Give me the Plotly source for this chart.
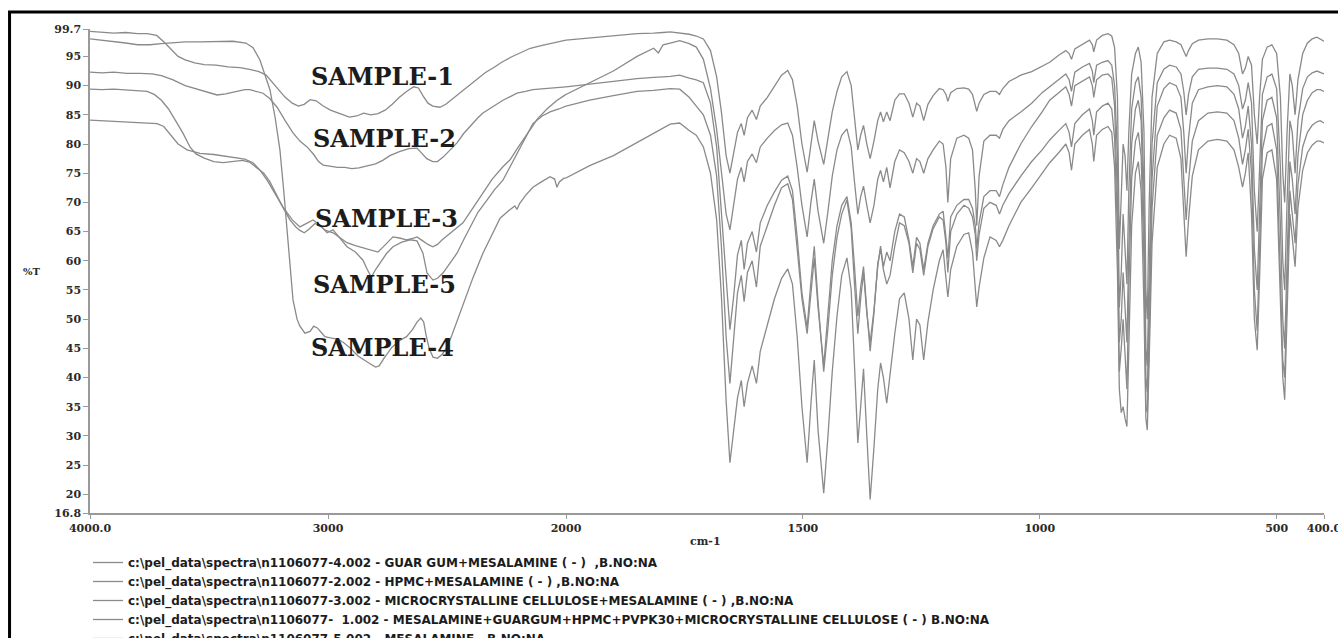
import plotly.graph_objects as go

# ---------------- data ----------------
# High-wavenumber part (4000 -> 2000 cm-1), one list per sample
WN_S1_HI = [4000, 3950, 3900, 3850, 3800, 3760, 3720, 3690, 3660, 3630, 3600, 3560, 3520, 3470, 3420,
            3370, 3330, 3290, 3260, 3235, 3210, 3180, 3150, 3125, 3100, 3075, 3050, 3020, 2990, 2950,
            2910, 2880, 2850, 2820, 2790, 2760, 2730, 2700, 2670, 2640, 2620, 2600, 2580, 2560, 2530,
            2505, 2480, 2458, 2430, 2400, 2374, 2340, 2300, 2270, 2230, 2190, 2150, 2100, 2050, 2000]
T_S1_HI = [99.3, 99.2, 99.0, 99.1, 98.9, 98.9, 98.6, 97.5, 96.3, 95.0, 94.4, 93.9, 93.6, 93.5, 93.2,
           93.1, 92.8, 92.4, 91.8, 90.6, 89.3, 88.0, 87.0, 86.5, 86.8, 87.6, 87.4, 86.5, 85.8, 85.2,
           84.6, 84.8, 85.3, 85.0, 85.2, 85.8, 86.8, 88.0, 89.0, 89.8, 89.6, 88.2, 87.0, 86.5, 86.3,
           86.8, 87.6, 88.3, 89.2, 90.3, 91.0, 92.2, 93.2, 94.0, 94.9, 95.6, 96.4, 96.9, 97.4, 97.8]

WN_S2_HI = [4000, 3950, 3900, 3845, 3790, 3740, 3700, 3651, 3600, 3560, 3538, 3500, 3466, 3430, 3390,
            3350, 3328, 3300, 3273, 3245, 3214, 3180, 3147, 3118, 3088, 3060, 3040, 3020, 2990, 2960,
            2930, 2900, 2870, 2840, 2800, 2770, 2740, 2700, 2660, 2626, 2605, 2585, 2560, 2540, 2515,
            2490, 2458, 2430, 2400, 2370, 2349, 2310, 2265, 2230, 2206, 2170, 2139, 2090, 2040, 2000]
T_S2_HI = [92.3, 92.2, 92.3, 92.1, 92.1, 92.0, 91.7, 91.0, 90.0, 89.5, 89.3, 88.8, 88.4, 88.6, 89.0,
           89.3, 89.3, 89.0, 88.7, 87.8, 86.3, 84.0, 81.9, 80.5, 79.5, 78.2, 77.0, 76.4, 76.2, 76.0,
           76.0, 75.8, 75.9, 76.2, 76.6, 77.2, 78.0, 78.7, 79.2, 79.3, 78.4, 77.5, 77.0, 77.0, 77.8,
           78.8, 80.2, 81.8, 83.2, 84.5, 85.3, 86.3, 87.5, 88.2, 88.7, 89.0, 89.3, 89.5, 89.7, 89.8]

WN_S3_HI = [4000, 3950, 3900, 3850, 3800, 3760, 3730, 3700, 3670, 3640, 3610, 3580, 3555, 3520, 3480,
            3440, 3399, 3360, 3330, 3300, 3270, 3245, 3220, 3190, 3160, 3135, 3118, 3100, 3080, 3055,
            3035, 3010, 2979, 2950, 2920, 2885, 2850, 2815, 2790, 2770, 2750, 2727, 2700, 2670, 2640,
            2626, 2605, 2580, 2560, 2540, 2520, 2490, 2460, 2433, 2400, 2370, 2349, 2310, 2265, 2235,
            2200, 2160, 2120, 2080, 2040, 2000]
T_S3_HI = [89.4, 89.3, 89.4, 89.3, 89.2, 89.0, 88.5, 87.5, 86.0, 84.0, 81.9, 79.5, 78.3, 77.6, 77.0,
           76.8, 77.0, 77.2, 76.9, 76.0, 75.0, 73.6, 71.5, 69.2, 67.0, 65.8, 65.2, 64.8, 65.4, 66.4,
           66.0, 65.2, 64.8, 64.0, 63.1, 62.6, 62.2, 61.8, 61.5, 62.3, 63.1, 64.1, 63.9, 63.6, 63.9,
           64.1, 63.5, 62.8, 62.4, 62.8, 63.6, 64.6, 65.6, 66.5, 68.5, 70.3, 71.6, 74.0, 76.1, 77.3,
           79.5, 82.0, 84.3, 86.0, 87.4, 88.5]

WN_S4_HI = [4000, 3950, 3900, 3850, 3800, 3748, 3700, 3650, 3600, 3538, 3460, 3399, 3345, 3315, 3286,
            3265, 3244, 3222, 3202, 3186, 3172, 3160, 3147, 3130, 3118, 3097, 3075, 3060, 3045, 3030,
            3013, 2990, 2960, 2935, 2905, 2874, 2850, 2825, 2800, 2785, 2765, 2745, 2731, 2700, 2670,
            2645, 2626, 2610, 2598, 2588, 2575, 2559, 2540, 2520, 2500, 2480, 2455, 2424, 2390, 2349,
            2310, 2277, 2240, 2215, 2206, 2195, 2170, 2139, 2100, 2067, 2048, 2038, 2028, 2010, 2000]
T_S4_HI = [98.0, 97.8, 97.5, 97.3, 97.0, 97.0, 97.2, 97.4, 97.5, 97.5, 97.6, 97.6, 97.3, 96.5, 94.4,
           92.0, 89.3, 84.5, 79.0, 72.0, 64.8, 58.5, 53.3, 50.0, 48.8, 47.6, 47.9, 48.8, 48.5, 47.8,
           47.0, 46.8, 46.6, 46.0, 45.0, 43.7, 43.0, 42.4, 41.8, 42.0, 43.3, 44.5, 45.2, 46.3, 47.0,
           48.2, 49.5, 50.2, 49.5, 47.3, 45.0, 43.5, 43.3, 44.0, 45.2, 47.2, 50.0, 53.3, 57.2, 61.3,
           64.5, 67.3, 68.6, 69.4, 68.8, 69.8, 71.2, 72.6, 73.6, 74.4, 74.0, 72.6, 73.5, 74.1, 74.2]

WN_S5_HI = [4000, 3950, 3900, 3845, 3780, 3718, 3690, 3660, 3630, 3592, 3560, 3538, 3480, 3430, 3399,
            3350, 3315, 3285, 3256, 3220, 3189, 3150, 3118, 3090, 3063, 3030, 3004, 2979, 2950, 2920,
            2885, 2853, 2835, 2818, 2800, 2782, 2755, 2727, 2690, 2655, 2626, 2601, 2584, 2559, 2540,
            2517, 2490, 2458, 2430, 2403, 2370, 2332, 2300, 2265, 2230, 2200, 2170, 2139, 2100, 2067,
            2030, 2000]
T_S5_HI = [84.1, 84.0, 83.9, 83.8, 83.7, 83.5, 83.0, 81.5, 80.0, 79.0, 78.6, 78.4, 78.2, 77.9, 77.8,
           77.4, 76.8, 75.5, 73.8, 71.2, 69.2, 67.0, 65.8, 66.4, 67.0, 66.0, 64.8, 65.3, 63.8, 62.4,
           61.5, 60.1, 58.5, 57.2, 58.5, 59.6, 61.2, 62.4, 63.2, 63.6, 63.4, 61.3, 57.9, 56.7, 57.0,
           57.9, 59.5, 61.3, 63.6, 65.8, 68.3, 70.4, 72.2, 73.8, 76.5, 79.0, 81.2, 83.5, 84.8, 85.5,
           86.0, 86.5]

# Fingerprint part (2000 -> 400 cm-1), shared wavenumber grid
WN_FP = [2000, 1950, 1900, 1850, 1815, 1805, 1795, 1780, 1760, 1740, 1725, 1710, 1695, 1682, 1672,
         1662, 1654, 1646, 1638, 1630, 1624, 1617, 1607, 1598, 1590, 1575, 1560, 1545, 1532, 1522,
         1512, 1502, 1491, 1483, 1476, 1468, 1456, 1447, 1438, 1428, 1418, 1407, 1398, 1391, 1384,
         1378, 1372, 1365, 1358, 1350, 1342, 1336, 1330, 1323, 1316, 1306, 1296, 1286, 1276, 1268,
         1260, 1253, 1245, 1236, 1225, 1212, 1204, 1198, 1194, 1188, 1175, 1160, 1150, 1142, 1136,
         1133, 1128, 1118, 1105, 1092, 1085, 1078, 1065, 1040, 1017, 995, 979, 960, 945, 938,
         933, 926, 910, 895, 889, 886, 880, 868, 856, 848, 842, 836, 832, 828, 824,
         820, 816, 812, 806, 798, 792, 786, 780, 776, 773, 769, 763, 752, 738, 726,
         712, 702, 696, 691, 686, 678, 665, 645, 625, 605, 590, 580, 572, 566, 560,
         553, 547, 541, 536, 530, 520, 510, 500, 492, 487, 483, 478, 472, 467, 461,
         455, 445, 435, 425, 415, 408, 400]
T_S1_FP = [97.8, 98.2, 98.6, 98.9, 99.0, 99.1, 99.1, 99.2, 99.0, 98.8, 98.5, 98.0, 96.0, 91.5, 85.5,
           78.0, 75.0, 78.5, 82.0, 83.5, 81.5, 84.5, 85.8, 84.2, 86.5, 88.0, 89.8, 91.8, 92.6, 91.0,
           86.5, 80.0, 75.2, 80.0, 84.0, 80.5, 76.5, 81.0, 85.5, 89.0, 91.5, 92.4, 90.0, 84.5, 79.0,
           81.5, 83.2, 80.0, 77.5, 80.5, 84.0, 85.5, 83.8, 85.5, 84.0, 87.5, 88.6, 88.6, 87.0, 84.6,
           87.0, 86.5, 84.0, 86.8, 88.3, 89.5, 89.3, 88.5, 87.3, 88.8, 89.5, 89.6, 89.4, 88.5, 86.5,
           85.6, 87.0, 88.5, 89.0, 89.0, 88.5, 89.5, 90.7, 91.8, 92.4, 93.3, 94.0, 95.2, 96.0, 95.5,
           94.5, 96.3, 97.0, 97.8, 97.0, 95.8, 97.8, 98.6, 98.9, 98.5, 96.5, 88.0, 62.0, 70.0, 80.0,
           78.0, 72.0, 82.0, 92.0, 95.5, 96.6, 94.0, 82.0, 55.0, 50.0, 70.0, 88.0, 95.5, 97.5, 97.8,
           97.5, 97.0, 96.0, 95.0, 96.0, 97.2, 97.8, 98.0, 98.0, 97.8, 97.0, 95.5, 92.0, 93.0, 95.0,
           93.5, 85.0, 80.0, 88.0, 94.5, 96.6, 97.0, 95.5, 88.0, 75.0, 70.0, 82.0, 92.0, 90.0, 85.0,
           91.0, 95.5, 97.3, 98.0, 98.3, 98.0, 97.6]
T_S3_FP = [88.5, 90.5, 92.5, 95.0, 96.4, 95.6, 97.0, 97.3, 97.7, 97.2, 96.6, 94.5, 89.5, 82.5, 75.0,
           68.0, 65.3, 69.5, 74.0, 76.0, 73.5, 77.0, 78.3, 76.8, 79.5, 81.0, 82.3, 83.3, 83.6, 81.5,
           76.0, 69.5, 64.1, 70.0, 74.0, 68.5, 63.0, 68.5, 74.5, 79.0, 81.5, 82.6, 79.5, 73.5, 68.0,
           71.0, 72.8, 69.5, 66.5, 69.5, 74.0, 75.5, 73.5, 76.0, 72.5, 77.0, 79.0, 78.5, 77.0, 75.0,
           77.5, 77.0, 75.0, 77.5, 79.0, 80.5, 80.0, 76.0, 70.0, 77.5, 81.0, 81.5, 81.0, 79.0, 72.0,
           66.0, 74.5, 80.5, 81.5, 81.5, 81.0, 82.5, 84.0, 85.5, 87.0, 88.8, 89.8, 91.0, 92.0, 91.0,
           89.0, 92.3, 93.2, 93.8, 92.5, 90.5, 93.5, 94.0, 94.3, 93.5, 90.0, 78.0, 52.0, 58.0, 68.0,
           62.0, 56.0, 72.0, 86.0, 90.5, 91.5, 88.0, 72.0, 45.0, 42.0, 58.0, 80.0, 90.5, 92.8, 93.5,
           93.2, 92.0, 89.0, 85.0, 88.5, 91.5, 92.8, 93.0, 93.0, 92.8, 92.0, 90.0, 86.0, 87.5, 90.5,
           87.0, 72.0, 65.0, 77.0, 88.5, 91.5, 92.0, 89.5, 76.0, 60.0, 55.0, 70.0, 84.0, 82.0, 75.0,
           84.0, 89.5, 91.5, 92.2, 92.5, 92.3, 92.0]
T_S2_FP = [89.8, 90.3, 90.8, 91.2, 91.4, 91.5, 91.5, 91.6, 91.8, 91.3, 91.0, 90.5, 87.0, 79.5, 68.0,
           56.0, 48.2, 54.0, 61.0, 63.5, 58.5, 63.0, 65.0, 61.5, 66.5, 69.5, 71.8, 73.8, 74.5, 72.0,
           64.0, 54.5, 48.5, 56.5, 62.5, 53.0, 41.0, 48.5, 57.5, 64.0, 68.0, 70.4, 65.5, 56.0, 47.5,
           53.5, 58.0, 51.0, 46.0, 51.5, 59.0, 62.5, 59.0, 61.5, 60.0, 65.0, 68.0, 67.5, 63.5, 59.0,
           64.0, 63.0, 58.5, 63.0, 66.0, 68.0, 68.5, 64.0, 60.5, 67.5, 69.5, 70.5, 70.5, 69.0, 66.0,
           62.0, 66.5, 71.0, 72.0, 72.0, 71.0, 73.0, 76.0, 80.0, 83.0, 85.5, 87.5, 88.8, 89.8, 88.5,
           86.5, 90.0, 90.8, 91.5, 90.0, 88.0, 91.0, 91.8, 92.0, 91.3, 86.5, 70.0, 46.0, 50.0, 58.0,
           52.0, 46.0, 62.0, 80.0, 86.0, 87.5, 84.0, 66.0, 40.0, 37.5, 52.0, 74.0, 86.5, 89.5, 90.5,
           90.0, 88.0, 82.0, 75.0, 81.0, 87.0, 89.3, 89.8, 90.0, 89.8, 88.5, 86.0, 81.0, 83.0, 86.5,
           80.0, 62.0, 55.0, 68.0, 84.0, 87.5, 88.0, 84.5, 66.0, 50.0, 45.0, 60.0, 77.0, 74.0, 68.0,
           78.0, 85.0, 87.5, 88.8, 89.3, 89.3, 89.0]
T_S5_FP = [86.5, 87.5, 88.3, 89.0, 89.2, 89.3, 89.3, 89.5, 89.4, 88.0, 86.5, 85.0, 81.5, 74.5, 62.5,
           47.0, 39.0, 46.5, 54.5, 57.5, 53.0, 58.0, 60.0, 55.5, 62.5, 66.0, 69.5, 72.5, 73.2, 70.5,
           62.0, 53.5, 47.5, 55.0, 60.5, 52.0, 42.0, 51.0, 60.0, 66.0, 69.5, 71.0, 66.5, 59.0, 50.5,
           55.5, 59.0, 51.5, 44.5, 51.0, 59.5, 62.0, 58.5, 56.0, 57.5, 62.5, 66.5, 66.0, 63.0, 57.9,
           63.0, 62.0, 57.5, 62.5, 65.5, 67.5, 67.0, 63.0, 58.0, 65.0, 68.0, 69.5, 69.0, 67.5, 64.5,
           60.0, 64.5, 69.0, 70.0, 69.5, 68.0, 69.5, 71.5, 74.5, 77.0, 79.0, 80.7, 82.3, 83.5, 82.0,
           79.5, 83.5, 85.0, 86.0, 84.0, 81.5, 85.5, 86.5, 87.0, 86.0, 81.0, 65.0, 41.0, 45.0, 50.0,
           44.0, 38.0, 55.0, 74.0, 80.5, 82.0, 78.0, 60.0, 35.0, 34.0, 47.0, 69.0, 81.5, 84.5, 85.8,
           85.3, 82.5, 75.0, 67.0, 73.5, 80.5, 84.0, 85.3, 85.5, 85.3, 84.0, 81.0, 76.5, 79.0, 82.5,
           75.0, 55.0, 48.0, 62.0, 79.0, 83.0, 83.5, 79.0, 58.0, 43.0, 40.0, 55.0, 72.0, 68.0, 63.0,
           73.0, 79.5, 82.0, 83.2, 83.8, 84.0, 83.6]
T_S4_FP = [74.2, 76.3, 78.0, 80.3, 81.8, 82.3, 82.8, 83.4, 83.6, 82.3, 81.5, 79.5, 75.0, 67.0, 54.0,
           36.0, 25.4, 31.0, 36.5, 39.5, 35.0, 39.0, 42.0, 39.0, 44.5, 49.0, 53.5, 57.0, 58.6, 56.0,
           47.0, 35.0, 25.4, 35.5, 43.0, 31.0, 20.2, 30.0, 41.0, 50.5, 57.5, 60.5, 55.0, 42.0, 28.8,
           35.0, 41.5, 30.0, 19.1, 28.0, 38.0, 42.5, 40.0, 35.6, 41.0, 47.5, 53.5, 54.5, 50.0, 43.0,
           50.0, 49.0, 43.0, 49.5, 55.0, 60.0, 61.9, 57.0, 53.8, 58.5, 62.5, 64.5, 64.8, 61.5, 55.0,
           52.1, 55.5, 60.5, 64.1, 63.5, 62.4, 63.5, 66.0, 70.0, 72.5, 75.0, 76.8, 78.5, 80.0, 78.5,
           75.5, 80.0, 81.5, 82.5, 80.0, 77.0, 81.5, 82.5, 83.0, 82.0, 76.0, 58.0, 38.0, 34.0, 35.0,
           33.0, 31.6, 45.0, 66.0, 75.0, 77.0, 72.0, 52.0, 33.0, 31.0, 43.0, 63.0, 76.0, 80.0, 81.5,
           81.0, 77.5, 68.0, 60.7, 67.0, 74.5, 79.0, 80.5, 80.8, 80.5, 79.0, 76.0, 72.6, 75.0, 78.5,
           68.0, 50.0, 44.7, 57.0, 74.0, 78.5, 79.0, 74.0, 52.0, 40.0, 36.2, 52.0, 68.0, 64.0, 59.0,
           69.0, 75.5, 78.5, 79.8, 80.5, 80.5, 80.2]

# Legend text (in the order shown under the chart)
LEGEND_NAMES = [
    r"c:\pel_data\spectra\n1106077-4.002 - GUAR GUM+MESALAMINE ( - )  ,B.NO:NA",
    r"c:\pel_data\spectra\n1106077-2.002 - HPMC+MESALAMINE ( - ) ,B.NO:NA",
    r"c:\pel_data\spectra\n1106077-3.002 - MICROCRYSTALLINE CELLULOSE+MESALAMINE ( - ) ,B.NO:NA",
    r"c:\pel_data\spectra\n1106077-  1.002 - MESALAMINE+GUARGUM+HPMC+PVPK30+MICROCRYSTALLINE CELLULOSE ( - ) B.NO:NA",
    r"c:\pel_data\spectra\n1106077-5.002 - MESALAMINE  ,B.NO:NA",
]

SAMPLE_LABELS = ["SAMPLE-1", "SAMPLE-2", "SAMPLE-3", "SAMPLE-5", "SAMPLE-4"]
SAMPLE_LABEL_WN = [2769, 2761, 2756, 2761, 2773]
SAMPLE_LABEL_T = [91.6, 81.0, 67.2, 56.0, 45.1]

Y_TICKS = [16.8, 20, 25, 30, 35, 40, 45, 50, 55, 60, 65, 70, 75, 80, 85, 90, 95, 99.7]
Y_TICK_TEXT = ["16.8", "20", "25", "30", "35", "40", "45", "50", "55", "60", "65", "70", "75",
               "80", "85", "90", "95", "99.7"]
X1_TICKS = [4000, 3000]
X1_TICK_TEXT = ["4000.0", "3000"]
X2_TICKS = [2000, 1500, 1000, 500, 400]
X2_TICK_TEXT = ["2000", "1500", "1000", "500", "400.0"]

# ---------------- figure ----------------
LINE_COLOR = "#8a8a8a"
AXIS_COLOR = "#9a9a9a"
TICK_FONT = dict(family="DejaVu Serif", size=11, color="#2a2a2a", weight="bold")

series = [
    (LEGEND_NAMES[0], WN_S4_HI, T_S4_HI, T_S4_FP),
    (LEGEND_NAMES[1], WN_S2_HI, T_S2_HI, T_S2_FP),
    (LEGEND_NAMES[2], WN_S3_HI, T_S3_HI, T_S3_FP),
    (LEGEND_NAMES[3], WN_S1_HI, T_S1_HI, T_S1_FP),
    (LEGEND_NAMES[4], WN_S5_HI, T_S5_HI, T_S5_FP),
]

fig = go.Figure()
for name, wn_hi, t_hi, t_fp in series:
    fig.add_trace(go.Scatter(x=wn_hi, y=t_hi, mode="lines", name=name, legendgroup=name,
                             line=dict(color=LINE_COLOR, width=1.3), xaxis="x", yaxis="y",
                             showlegend=True, hoverinfo="skip"))
    fig.add_trace(go.Scatter(x=WN_FP, y=t_fp, mode="lines", name=name, legendgroup=name,
                             line=dict(color=LINE_COLOR, width=1.3), xaxis="x2", yaxis="y",
                             showlegend=False, hoverinfo="skip"))

split = 476.0 / 1234.0

common_x = dict(showline=True, linecolor=AXIS_COLOR, linewidth=1.5, ticks="outside", ticklen=4,
                tickcolor=AXIS_COLOR, tickwidth=1, showgrid=False, zeroline=False,
                tickfont=TICK_FONT, anchor="y", fixedrange=True, tickangle=0,
                ticklabeloverflow="allow")

annotations = []
for lab, wx, ty in zip(SAMPLE_LABELS, SAMPLE_LABEL_WN, SAMPLE_LABEL_T):
    annotations.append(dict(x=wx, y=ty, xref="x", yref="y", text=lab, showarrow=False,
                            font=dict(family="DejaVu Serif", size=24, color="#1c1c1c", weight="bold"),
                            xanchor="center", yanchor="middle"))
annotations.append(dict(x=-0.047, y=0.50, xref="paper", yref="paper", text="%T", showarrow=False,
                        font=dict(family="DejaVu Serif", size=10, color="#2a2a2a", weight="bold"),
                        xanchor="center", yanchor="middle"))
annotations.append(dict(x=0.499, y=-0.058, xref="paper", yref="paper", text="cm-1", showarrow=False,
                        font=dict(family="DejaVu Serif", size=11, color="#2a2a2a", weight="bold"),
                        xanchor="center", yanchor="middle"))

fig.update_layout(
    width=1338, height=638,
    margin=dict(l=90, r=14, t=29, b=125, autoexpand=False),
    paper_bgcolor="white", plot_bgcolor="white",
    xaxis=dict(domain=[0, split], range=[4000, 2000], tickvals=X1_TICKS, ticktext=X1_TICK_TEXT,
               **common_x),
    xaxis2=dict(domain=[split, 1], range=[2000, 400], tickvals=X2_TICKS, ticktext=X2_TICK_TEXT,
                **common_x),
    yaxis=dict(domain=[0, 1], range=[16.8, 99.7], tickvals=Y_TICKS, ticktext=Y_TICK_TEXT,
               showline=True, linecolor=AXIS_COLOR, linewidth=1.5, ticks="outside", ticklen=5,
               tickcolor=AXIS_COLOR, showgrid=False, zeroline=False, tickfont=TICK_FONT,
               anchor="x", fixedrange=True),
    showlegend=True,
    legend=dict(xref="container", yref="container", x=88 / 1338, y=1 - 548 / 638,
                xanchor="left", yanchor="top", orientation="v", traceorder="normal",
                bgcolor="rgba(0,0,0,0)",
                font=dict(family="DejaVu Sans", size=12, color="#1c1c1c", weight="bold")),
    annotations=annotations,
    shapes=[dict(type="rect", xref="paper", yref="paper", x0=-0.0652, x1=1.03, y0=-0.30, y1=1.0351,
                 line=dict(color="black", width=3), fillcolor="rgba(0,0,0,0)", layer="above")],
)

fig.write_html("out.html")
